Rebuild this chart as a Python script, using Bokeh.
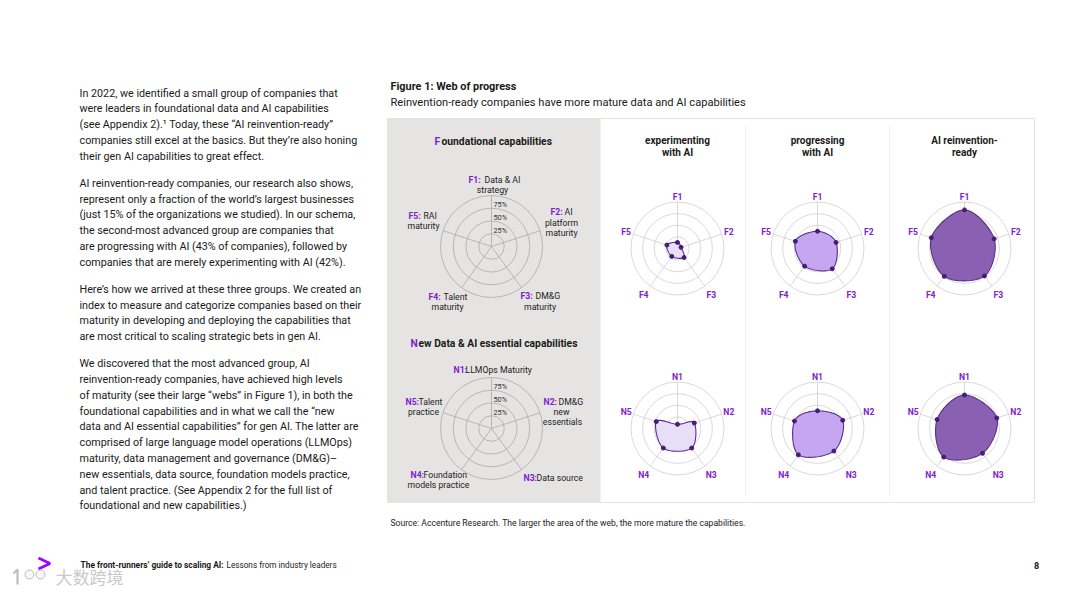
import numpy as np
from bokeh.plotting import figure
from bokeh.models import Range1d
from bokeh.core.properties import value
from bokeh.embed import file_html
from bokeh.resources import INLINE

# ---------------- data ----------------
group_titles = [["experimenting", "with AI"], ["progressing", "with AI"], ["AI reinvention-", "ready"]]
found_axes = ["F1", "F2", "F3", "F4", "F5"]
new_axes = ["N1", "N2", "N3", "N4", "N5"]

found_experimenting = [13, 8, 24, 21, 24]
found_progressing = [37, 42, 54, 47, 50]
found_reinvention = [83, 67, 73, 74, 75]

new_experimenting = [9, 38, 52, 52, 48]
new_progressing = [38, 57, 60, 70, 52]
new_reinvention = [72, 73, 66, 76, 62]

ring_levels = [25, 50, 75, 100]
ring_labels = ["75%", "50%", "25%"]

para_lines = [
    ["In 2022, we identified a small group of companies that",
     "were leaders in foundational data and AI capabilities",
     "(see Appendix 2).\u00b9 Today, these \u201cAI reinvention-ready\u201d",
     "companies still excel at the basics. But they\u2019re also honing",
     "their gen AI capabilities to great effect."],
    ["AI reinvention-ready companies, our research also shows,",
     "represent only a fraction of the world\u2019s largest businesses",
     "(just 15% of the organizations we studied). In our schema,",
     "the second-most advanced group are companies that",
     "are progressing with AI (43% of companies), followed by",
     "companies that are merely experimenting with AI (42%)."],
    ["Here\u2019s how we arrived at these three groups. We created an",
     "index to measure and categorize companies based on their",
     "maturity in developing and deploying the capabilities that",
     "are most critical to scaling strategic bets in gen AI."],
    ["We discovered that the most advanced group, AI",
     "reinvention-ready companies, have achieved high levels",
     "of maturity (see their large \u201cwebs\u201d in Figure 1), in both the",
     "foundational capabilities and in what we call the \u201cnew",
     "data and AI essential capabilities\u201d for gen AI. The latter are",
     "comprised of large language model operations (LLMOps)",
     "maturity, data management and governance (DM&G)\u2013",
     "new essentials, data source, foundation models practice,",
     "and talent practice. (See Appendix 2 for the full list of",
     "foundational and new capabilities.)"],
]

FONT = "Roboto"
PURPLE = "#7e22ce"
DARK = "#1a1a1a"

p = figure(width=1064, height=591, x_range=Range1d(0, 1064), y_range=Range1d(591, 0),
           output_backend="svg", toolbar_location=None, min_border=0)
p.axis.visible = False
p.grid.visible = False
p.outline_line_color = None
p.background_fill_color = "white"
p.border_fill_color = "white"


def txt(x, y, s, size, color=DARK, bold=False, align="left", font=FONT):
    p.text(x=[x], y=[y], text=[s], text_font=value(font), text_font_size=f"{size}px",
           text_color=color, text_align=align, text_baseline="middle",
           text_font_style="bold" if bold else "normal")


# ---------------- left text ----------------
y = 92.5
for para in para_lines:
    for line in para:
        txt(79, y, line, 10.75)
        y += 15.8
    y += 11.2

# ---------------- figure header ----------------
txt(390, 86, "Figure 1: Web of progress", 10.9, bold=True)
txt(390, 102, "Reinvention-ready companies have more mature data and AI capabilities", 11.1)

# panels
p.quad(left=387, right=1034, top=118, bottom=502, fill_color="white", line_color="#e2e2e2", line_width=1)
p.quad(left=387, right=600, top=118, bottom=502, fill_color="#e6e4e2", line_color=None)
p.segment(x0=[745, 889], y0=[125, 125], x1=[745, 889], y1=[496, 496], line_color="#f1f1f1", line_width=1)

angles = np.deg2rad(90 - 72 * np.arange(5))


def grid(cx, cy, R, color):
    for lv in ring_levels:
        p.circle(x=[cx], y=[cy], radius=R * lv / 100, fill_color=None, line_color=color, line_width=0.8)
    xs = [[cx, cx + R * np.cos(a)] for a in angles]
    ys = [[cy, cy - R * np.sin(a)] for a in angles]
    p.multi_line(xs=xs, ys=ys, line_color=color, line_width=0.8)


def catmull(px, py, n=24):
    px = np.asarray(px); py = np.asarray(py)
    k = len(px)
    ox, oy = [], []
    for i in range(k):
        p0 = np.array([px[(i - 1) % k], py[(i - 1) % k]])
        p1 = np.array([px[i], py[i]])
        p2 = np.array([px[(i + 1) % k], py[(i + 1) % k]])
        p3 = np.array([px[(i + 2) % k], py[(i + 2) % k]])
        for t in np.linspace(0, 1, n, endpoint=False):
            t2, t3 = t * t, t * t * t
            pt = 0.5 * ((2 * p1) + (-p0 + p2) * t + (2 * p0 - 5 * p1 + 4 * p2 - p3) * t2 + (-p0 + 3 * p1 - 3 * p2 + p3) * t3)
            ox.append(pt[0]); oy.append(pt[1])
    return ox, oy


def web(cx, cy, R, vals, fill, line):
    v = np.asarray(vals) / 100.0 * R
    px = cx + v * np.cos(angles)
    py = cy - v * np.sin(angles)
    sx, sy = catmull(px, py)
    p.patch(sx, sy, fill_color=fill, fill_alpha=1.0, line_color=line, line_width=1.1)
    p.scatter(px, py, size=4, color="#4a1a78")


# ---------------- grey legend radars ----------------
for cy in (246, 428):
    grid(491, cy, 51, "#acaaa8")
    for lab, dy in zip(ring_labels, (-42, -29, -16)):
        txt(493, cy + dy, lab, 7.3, color="#333333")

txt(434, 141, "F", 10.3, color=PURPLE, bold=True)
txt(441, 141, "oundational capabilities", 10.3, bold=True)
txt(410, 343, "N", 10.3, color=PURPLE, bold=True)
txt(418, 343, "ew Data & AI essential capabilities", 10.3, bold=True)

LS = 8.7
found_desc = [
    (468, 179.5, 484, "Data & AI", [(492, 189, "strategy")]),
    (550, 211, 564, "AI", [(561, 222, "platform"), (561, 232, "maturity")]),
    (520, 295, 535, "DM&G", [(539.5, 306, "maturity")]),
    (428, 296, 443, "Talent", [(447, 306.5, "maturity")]),
    (408, 215, 423, "RAI", [(423, 225.5, "maturity")]),
]
for code, (x0, y0, x1, rest, extra) in zip(found_axes, found_desc):
    txt(x0, y0, code + ":", LS, color=PURPLE, bold=True)
    txt(x1, y0, rest, LS, color="#222222")
    for (ex, ey, et) in extra:
        txt(ex, ey, et, LS, color="#222222", align="center")

new_desc = [
    (453, 369, 465, "LLMOps Maturity", []),
    (543, 401, 558, "DM&G", [(561, 411, "new"), (562, 421, "essentials")]),
    (523, 477, 536, "Data source", []),
    (410, 474, 423, "Foundation", [(438, 484, "models practice")]),
    (405, 401, 418, "Talent", [(423, 411, "practice")]),
]
for code, (x0, y0, x1, rest, extra) in zip(new_axes, new_desc):
    txt(x0, y0, code + ":", LS, color=PURPLE, bold=True)
    txt(x1, y0, rest, LS, color="#222222")
    for (ex, ey, et) in extra:
        txt(ex, ey, et, LS, color="#222222", align="center")

# ---------------- group radars ----------------
centers_x = [677, 817, 964]
fills = ["#e7def8", "#c5a7f1", "#8a60b3"]
lines = ["#5b2d8e", "#5b2d8e", "#5a2d86"]
found_sets = [found_experimenting, found_progressing, found_reinvention]
new_sets = [new_experimenting, new_progressing, new_reinvention]
R = 46.5
lab_r = [52, 54, 57.5, 57.5, 54]

for gi, cx in enumerate(centers_x):
    t1, t2 = group_titles[gi]
    txt(cx, 140, t1, 10, bold=True, align="center")
    txt(cx, 152, t2, 10, bold=True, align="center")
    for cy, axes_names, vals in ((248, found_axes, found_sets[gi]), (428, new_axes, new_sets[gi])):
        grid(cx, cy, R, "#cfcfcf")
        web(cx, cy, R, vals, fills[gi], lines[gi])
        for a, name, rr in zip(angles, axes_names, lab_r):
            txt(cx + rr * np.cos(a), cy - rr * np.sin(a), name, 8.6, color=PURPLE, bold=True, align="center")

# ---------------- source & footer ----------------
txt(390, 522, "Source: Accenture Research. The larger the area of the web, the more mature the capabilities.", 8.6, color="#222222")

p.line(x=[38, 49.5, 38], y=[557.5, 563, 568.5], line_color="#a100ff", line_width=2.6)
txt(80, 564, "The front-runners\u2019 guide to scaling AI:", 8.4, bold=True)
txt(226, 564, "Lessons from industry leaders", 8.2, color="#222222")
txt(1036, 565, "8", 9, bold=True, align="center")

# watermark
txt(55, 576, "\u5927\u6570\u8de8\u5883", 17, color="#c9c9c9", font="Noto Sans CJK SC")
p.circle(x=[29, 40], y=[574, 574], radius=4.5, fill_color="#f6f6f6", line_color="#bdbdbd", line_width=1)
p.line(x=[13, 17, 17], y=[573, 569, 584], line_color="#bdbdbd", line_width=2.2)

open("out.html", "w").write(file_html(p, INLINE))
